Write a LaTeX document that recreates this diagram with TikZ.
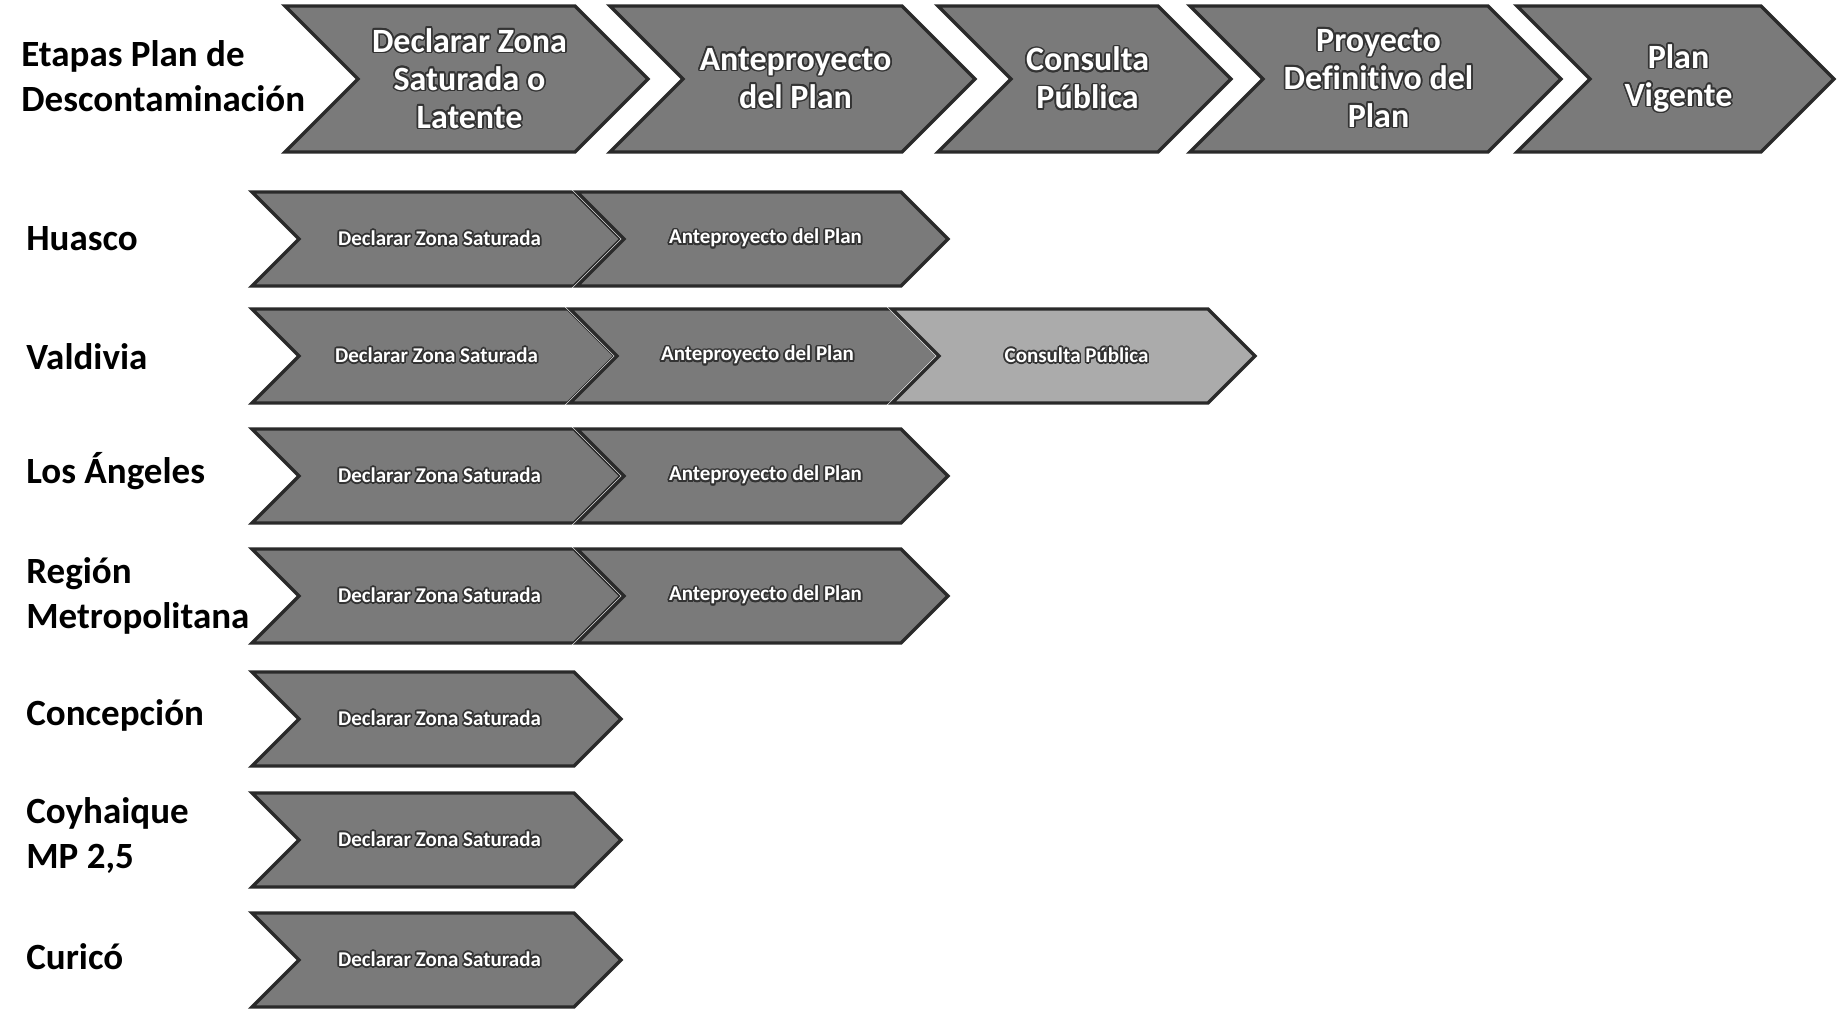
\documentclass[tikz,border=0pt]{standalone}
\usepackage{fontspec}
\setmainfont{Carlito}[Ligatures=NoCommon]
\usepackage{contour}
\contourlength{0.8pt}
\definecolor{chevfill}{HTML}{7A7A7A}
\definecolor{chevlight}{HTML}{ABABAB}
\definecolor{chevedge}{HTML}{2A2A2A}
\definecolor{txtedge}{HTML}{333333}
\newcommand\ct[1]{\contour{txtedge}{#1}}
% #1 name, #2 x left, #3 y mid, #4 width, #5 half height, #6 depth, #7 fill, #8 text style, #9 text
\newcommand\chevron[9]{%
  \draw[white, line width=2.2pt, line join=miter]
    (#2,#3-#5) -- (#2+#4-#6,#3-#5) -- (#2+#4,#3) -- (#2+#4-#6,#3+#5) -- (#2,#3+#5) -- (#2+#6,#3) -- cycle;
  \draw[chevline, fill=#7]
    (#2,#3-#5) -- (#2+#4-#6,#3-#5) -- (#2+#4,#3) -- (#2+#4-#6,#3+#5) -- (#2,#3+#5) -- (#2+#6,#3) -- cycle;
  \node[#8] (#1) at ({#2+#4/2+3},#3) {#9};
}
\begin{document}
\begin{tikzpicture}[x=0.5pt,y=-0.5pt,
  chevline/.style={draw=chevedge, line width=1.7pt, line join=miter},
  toptext/.style={text=white, align=center, inner sep=0pt, font=\bfseries\fontsize{17}{19}\selectfont},
  rowtext/.style={text=white, align=center, inner sep=0pt, font=\bfseries\fontsize{10.5}{12}\selectfont},
  rowlabel/.style={anchor=west, align=left, inner sep=0pt, text=black, font=\bfseries\fontsize{18.5}{22.5}\selectfont}]
\useasboundingbox (0,0) rectangle (1847,1010);
\fill[white] (0,0) rectangle (1847,1010);

% header row
\node[rowlabel] (lab0) at (21,76) {Etapas Plan de\\Descontaminación};
\chevron{h1}{285}{79}{363}{73}{73}{chevfill}{toptext}{\ct{Declarar Zona}\\\ct{Saturada o}\\\ct{Latente}}
\chevron{h2}{610}{79}{365}{73}{73}{chevfill}{toptext}{\ct{Anteproyecto}\\\ct{del Plan}}
\chevron{h3}{938}{79}{293}{73}{73}{chevfill}{toptext}{\ct{Consulta}\\\ct{Pública}}
\chevron{h4}{1190}{79}{371}{73}{73}{chevfill}{toptext}{\ct{Proyecto}\\\ct{Definitivo del}\\\ct{Plan}}
\chevron{h5}{1517}{79}{317}{73}{73}{chevfill}{toptext}{\ct{Plan}\\\ct{Vigente}}

% Huasco
\node[rowlabel] (lab1) at (26,239) {Huasco};
\chevron{a1}{252}{239}{369}{47}{47}{chevfill}{rowtext}{\ct{Declarar Zona Saturada}}
\chevron{a2}{577}{239}{371}{47}{47}{chevfill}{rowtext}{\ct{Anteproyecto del Plan}}

% Valdivia
\node[rowlabel] (lab2) at (26,357) {Valdivia};
\chevron{b1}{252}{356}{363}{47}{47}{chevfill}{rowtext}{\ct{Declarar Zona Saturada}}
\chevron{b2}{570}{356}{369}{47}{47}{chevfill}{rowtext}{\ct{Anteproyecto del Plan}}
\chevron{b3}{892}{356}{363}{47}{47}{chevlight}{rowtext}{\ct{Consulta Pública}}

% Los Angeles
\node[rowlabel] (lab3) at (26,471) {Los Ángeles};
\chevron{c1}{252}{476}{369}{47}{47}{chevfill}{rowtext}{\ct{Declarar Zona Saturada}}
\chevron{c2}{577}{476}{371}{47}{47}{chevfill}{rowtext}{\ct{Anteproyecto del Plan}}

% Region Metropolitana
\node[rowlabel] (lab4) at (26,596) {Región\\Metropolitana};
\chevron{d1}{252}{596}{369}{47}{47}{chevfill}{rowtext}{\ct{Declarar Zona Saturada}}
\chevron{d2}{577}{596}{371}{47}{47}{chevfill}{rowtext}{\ct{Anteproyecto del Plan}}

% Concepcion
\node[rowlabel] (lab5) at (26,715) {Concepción};
\chevron{e1}{252}{719}{369}{47}{47}{chevfill}{rowtext}{\ct{Declarar Zona Saturada}}

% Coyhaique
\node[rowlabel] (lab6) at (26,836) {Coyhaique\\MP 2,5};
\chevron{f1}{252}{840}{369}{47}{47}{chevfill}{rowtext}{\ct{Declarar Zona Saturada}}

% Curico
\node[rowlabel] (lab7) at (26,957) {Curicó};
\chevron{g1}{252}{960}{369}{47}{47}{chevfill}{rowtext}{\ct{Declarar Zona Saturada}}
\end{tikzpicture}
\end{document}
